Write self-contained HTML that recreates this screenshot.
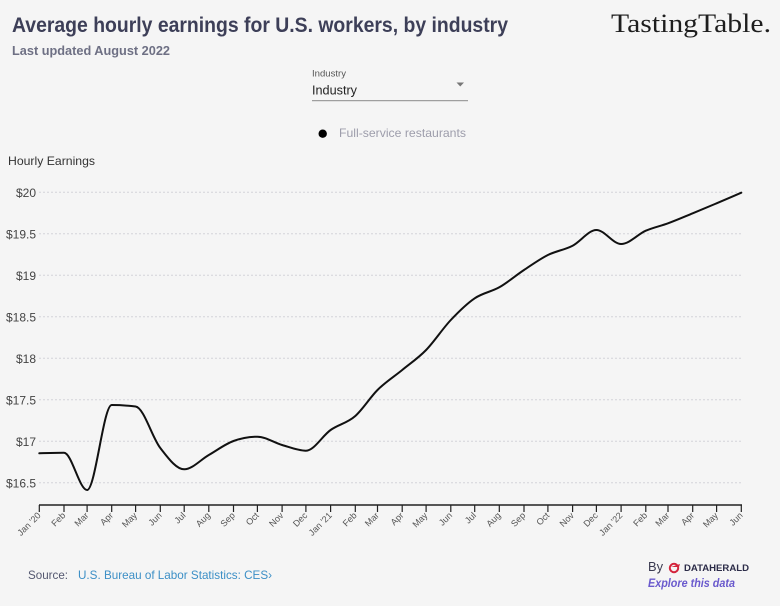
<!DOCTYPE html>
<html><head><meta charset="utf-8"><style>
html,body{margin:0;padding:0;background:#f5f5f5;}
svg{display:block;}
text{font-family:"Liberation Sans",sans-serif;}
</style></head><body>
<svg width="780" height="606" viewBox="0 0 780 606" xmlns="http://www.w3.org/2000/svg">
<rect width="780" height="606" fill="#f5f5f5"/>
<text x="12" y="32" font-size="21.5" font-weight="bold" fill="#3d3f58" textLength="496" lengthAdjust="spacingAndGlyphs">Average hourly earnings for U.S. workers, by industry</text>
<text x="12" y="55" font-size="13" font-weight="bold" fill="#6e7084" textLength="158" lengthAdjust="spacingAndGlyphs">Last updated August 2022</text>
<text x="611" y="32" font-size="26" fill="#1e1e1e" style="font-family:'Liberation Serif',serif" textLength="160" lengthAdjust="spacingAndGlyphs">TastingTable.</text>

<text x="312" y="76.5" font-size="9" fill="#555" textLength="34" lengthAdjust="spacingAndGlyphs">Industry</text>
<text x="312" y="94.5" font-size="13" fill="#222" textLength="45" lengthAdjust="spacingAndGlyphs">Industry</text>
<path d="M456.5 82.5 L464 82.5 L460.25 86.5 Z" fill="#777"/>
<rect x="312" y="100.2" width="156" height="1" fill="#8a8a8a"/>

<circle cx="322.7" cy="133.7" r="4.2" fill="#000"/>
<text x="339" y="137" font-size="12" fill="#9d9dab" textLength="127" lengthAdjust="spacingAndGlyphs">Full-service restaurants</text>

<text x="8" y="165" font-size="12" fill="#333" textLength="87" lengthAdjust="spacingAndGlyphs">Hourly Earnings</text>

<g stroke="#d4d4da" stroke-width="1" stroke-dasharray="2,2">
<line x1="39" y1="192.3" x2="741" y2="192.3"/>
<line x1="39" y1="233.8" x2="741" y2="233.8"/>
<line x1="39" y1="275.3" x2="741" y2="275.3"/>
<line x1="39" y1="316.8" x2="741" y2="316.8"/>
<line x1="39" y1="358.3" x2="741" y2="358.3"/>
<line x1="39" y1="399.8" x2="741" y2="399.8"/>
<line x1="39" y1="441.3" x2="741" y2="441.3"/>
<line x1="39" y1="482.8" x2="741" y2="482.8"/>
</g>
<g font-size="12" fill="#444" text-anchor="end">
<text x="36" y="196.8">$20</text>
<text x="36" y="238.3">$19.5</text>
<text x="36" y="279.8">$19</text>
<text x="36" y="321.3">$18.5</text>
<text x="36" y="362.8">$18</text>
<text x="36" y="404.3">$17.5</text>
<text x="36" y="445.8">$17</text>
<text x="36" y="487.3">$16.5</text>
</g>

<path fill="none" stroke="#111" stroke-width="2" stroke-linejoin="round" stroke-linecap="round" d="M39.3 453.3 C47.53 453.05 55.77 452.8 64 452.8 C71.7 452.8 79.4 490 87.1 490 C95.3 490 103.5 405 111.7 405 C119.67 405 127.63 405.5 135.6 406.5 C143.83 407.54 152.07 437.47 160.3 448 C168.27 458.2 176.23 469.3 184.2 469.3 C192.4 469.3 200.6 459.7 208.8 455 C217.03 450.28 225.27 443.96 233.5 441 C241.47 438.13 249.43 436.7 257.4 436.7 C265.63 436.7 273.87 442.63 282.1 445 C290.03 447.28 297.97 450.7 305.9 450.7 C314.13 450.7 322.37 435.76 330.6 430 C338.83 424.24 347.07 423.28 355.3 416 C362.7 409.45 370.1 397.4 377.5 390 C385.73 381.77 393.97 376.75 402.2 370 C410.17 363.47 418.13 358.2 426.1 350 C434.33 341.52 442.57 328.72 450.8 320 C458.77 311.55 466.73 303.72 474.7 298.3 C482.9 292.72 491.1 291.97 499.3 287.3 C507.53 282.61 515.77 275.43 524 270 C531.97 264.74 539.93 258.98 547.9 255 C556.13 250.88 564.37 249.98 572.6 245.7 C580.53 241.58 588.47 230 596.4 230 C604.63 230 612.87 244 621.1 244 C629.33 244 637.57 234.32 645.8 230.7 C653.2 227.44 660.6 226.04 668 223.3 C676.23 220.25 684.47 216.67 692.7 213.3 C700.67 210.03 708.63 206.65 716.6 203.3 C724.83 199.840 733.07 196.24 741.3 192.7"/>

<line x1="39" y1="505" x2="742" y2="505" stroke="#222" stroke-width="1.4"/>
<g stroke="#222" stroke-width="1.2">
<line x1="39.3" y1="505" x2="39.3" y2="512"/><line x1="64" y1="505" x2="64" y2="512"/><line x1="87.1" y1="505" x2="87.1" y2="512"/><line x1="111.7" y1="505" x2="111.7" y2="512"/><line x1="135.6" y1="505" x2="135.6" y2="512"/><line x1="160.3" y1="505" x2="160.3" y2="512"/><line x1="184.2" y1="505" x2="184.2" y2="512"/><line x1="208.8" y1="505" x2="208.8" y2="512"/><line x1="233.5" y1="505" x2="233.5" y2="512"/><line x1="257.4" y1="505" x2="257.4" y2="512"/><line x1="282.1" y1="505" x2="282.1" y2="512"/><line x1="305.9" y1="505" x2="305.9" y2="512"/><line x1="330.6" y1="505" x2="330.6" y2="512"/><line x1="355.3" y1="505" x2="355.3" y2="512"/><line x1="377.5" y1="505" x2="377.5" y2="512"/><line x1="402.2" y1="505" x2="402.2" y2="512"/><line x1="426.1" y1="505" x2="426.1" y2="512"/><line x1="450.8" y1="505" x2="450.8" y2="512"/><line x1="474.7" y1="505" x2="474.7" y2="512"/><line x1="499.3" y1="505" x2="499.3" y2="512"/><line x1="524" y1="505" x2="524" y2="512"/><line x1="547.9" y1="505" x2="547.9" y2="512"/><line x1="572.6" y1="505" x2="572.6" y2="512"/><line x1="596.4" y1="505" x2="596.4" y2="512"/><line x1="621.1" y1="505" x2="621.1" y2="512"/><line x1="645.8" y1="505" x2="645.8" y2="512"/><line x1="668" y1="505" x2="668" y2="512"/><line x1="692.7" y1="505" x2="692.7" y2="512"/><line x1="716.6" y1="505" x2="716.6" y2="512"/><line x1="741.3" y1="505" x2="741.3" y2="512"/>
</g>
<g font-size="9" fill="#555" text-anchor="end">
<text transform="translate(41.3,516) rotate(-45)">Jan '20</text>
<text transform="translate(66,516) rotate(-45)">Feb</text>
<text transform="translate(89.1,516) rotate(-45)">Mar</text>
<text transform="translate(113.7,516) rotate(-45)">Apr</text>
<text transform="translate(137.6,516) rotate(-45)">May</text>
<text transform="translate(162.3,516) rotate(-45)">Jun</text>
<text transform="translate(186.2,516) rotate(-45)">Jul</text>
<text transform="translate(210.8,516) rotate(-45)">Aug</text>
<text transform="translate(235.5,516) rotate(-45)">Sep</text>
<text transform="translate(259.4,516) rotate(-45)">Oct</text>
<text transform="translate(284.1,516) rotate(-45)">Nov</text>
<text transform="translate(307.9,516) rotate(-45)">Dec</text>
<text transform="translate(332.6,516) rotate(-45)">Jan '21</text>
<text transform="translate(357.3,516) rotate(-45)">Feb</text>
<text transform="translate(379.5,516) rotate(-45)">Mar</text>
<text transform="translate(404.2,516) rotate(-45)">Apr</text>
<text transform="translate(428.1,516) rotate(-45)">May</text>
<text transform="translate(452.8,516) rotate(-45)">Jun</text>
<text transform="translate(476.7,516) rotate(-45)">Jul</text>
<text transform="translate(501.3,516) rotate(-45)">Aug</text>
<text transform="translate(526,516) rotate(-45)">Sep</text>
<text transform="translate(549.9,516) rotate(-45)">Oct</text>
<text transform="translate(574.6,516) rotate(-45)">Nov</text>
<text transform="translate(598.4,516) rotate(-45)">Dec</text>
<text transform="translate(623.1,516) rotate(-45)">Jan '22</text>
<text transform="translate(647.8,516) rotate(-45)">Feb</text>
<text transform="translate(670,516) rotate(-45)">Mar</text>
<text transform="translate(694.7,516) rotate(-45)">Apr</text>
<text transform="translate(718.6,516) rotate(-45)">May</text>
<text transform="translate(743.3,516) rotate(-45)">Jun</text>
</g>

<text x="28" y="579" font-size="12" fill="#545870" textLength="40" lengthAdjust="spacingAndGlyphs">Source:</text>
<text x="78" y="579" font-size="12" fill="#3c8fc6" textLength="194" lengthAdjust="spacingAndGlyphs">U.S. Bureau of Labor Statistics: CES›</text>

<text x="648" y="571" font-size="13" fill="#3a3a50" textLength="15" lengthAdjust="spacingAndGlyphs">By</text>
<g transform="translate(669,563)">
<circle cx="5" cy="5" r="4.2" fill="none" stroke="#d4243c" stroke-width="2"/>
<path d="M2 4 L11 1 L10 4 Z" fill="#d4243c"/>
</g>
<text x="684" y="571" font-size="9" font-weight="bold" fill="#2c2c48" textLength="65" lengthAdjust="spacingAndGlyphs">DATAHERALD</text>
<text x="648" y="587" font-size="12" font-weight="bold" font-style="italic" fill="#6a5acd" textLength="87" lengthAdjust="spacingAndGlyphs">Explore this data</text>
</svg>
</body></html>
